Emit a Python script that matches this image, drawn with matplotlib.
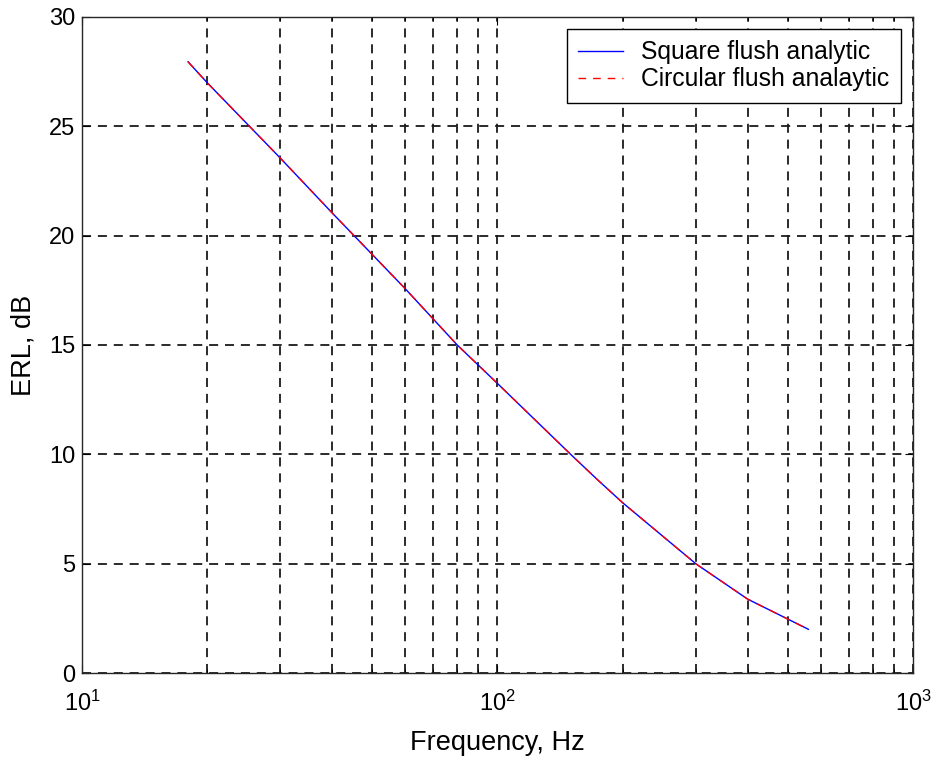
import matplotlib

matplotlib.use("Agg")
import matplotlib.pyplot as plt
from matplotlib.ticker import LogLocator, NullFormatter, MultipleLocator

plt.rcParams["font.family"] = ["Liberation Sans", "DejaVu Sans"]

# ERL curve (frequency in Hz, ERL in dB)
freq = [18, 20, 30, 40, 50, 60, 80, 100, 150, 173.6, 200, 300, 400, 560]
erl = [27.95, 27.0, 23.55, 21.04, 19.13, 17.57, 15.0, 13.24, 10.0, 8.86,
       7.79, 5.0, 3.38, 2.0]

fig = plt.figure(figsize=(9.36, 7.61), dpi=100)
ax = fig.add_axes([0.0876, 0.1156, 0.8878, 0.8621])

ax.semilogx(freq, erl, color="#0000ff", lw=1.0, label="Square flush analytic")
ax.semilogx(freq, erl, color="#ff0000", lw=1.0, ls=(0, (5.5, 5)),
            label="Circular flush analaytic")

ax.set_xlim(10, 1000)
ax.set_ylim(0, 30)
ax.yaxis.set_major_locator(MultipleLocator(5))
ax.xaxis.set_major_locator(LogLocator(base=10))
ax.xaxis.set_minor_locator(LogLocator(base=10, subs=range(2, 10)))
ax.xaxis.set_minor_formatter(NullFormatter())

grid_kw = dict(color="#1a1a1a", lw=1.3, ls=(0, (5, 3.8)))
ax.grid(True, which="major", axis="both", **grid_kw)
ax.grid(True, which="minor", axis="x", **grid_kw)
ax.set_axisbelow(True)

ax.tick_params(which="both", direction="in", top=True, right=True)
ax.tick_params(which="major", length=6, labelsize=17)
ax.tick_params(which="minor", length=3)
ax.tick_params(axis="x", which="major", pad=13)
ax.tick_params(axis="y", which="major", pad=5)
for s in ax.spines.values():
    s.set_linewidth(1.0)
    s.set_color("#262626")

ax.set_xlabel("Frequency, Hz", fontsize=19.5, labelpad=10)
ax.set_ylabel("ERL, dB", fontsize=19.5, labelpad=9)

leg = ax.legend(loc="upper right", fontsize=17.8, fancybox=False,
                edgecolor="black", framealpha=1, borderaxespad=0.5,
                handlelength=1.8, handletextpad=0.75, labelspacing=0.12,
                borderpad=0.45)
leg.get_frame().set_linewidth(1.0)

fig.savefig("out.png", dpi=100)
